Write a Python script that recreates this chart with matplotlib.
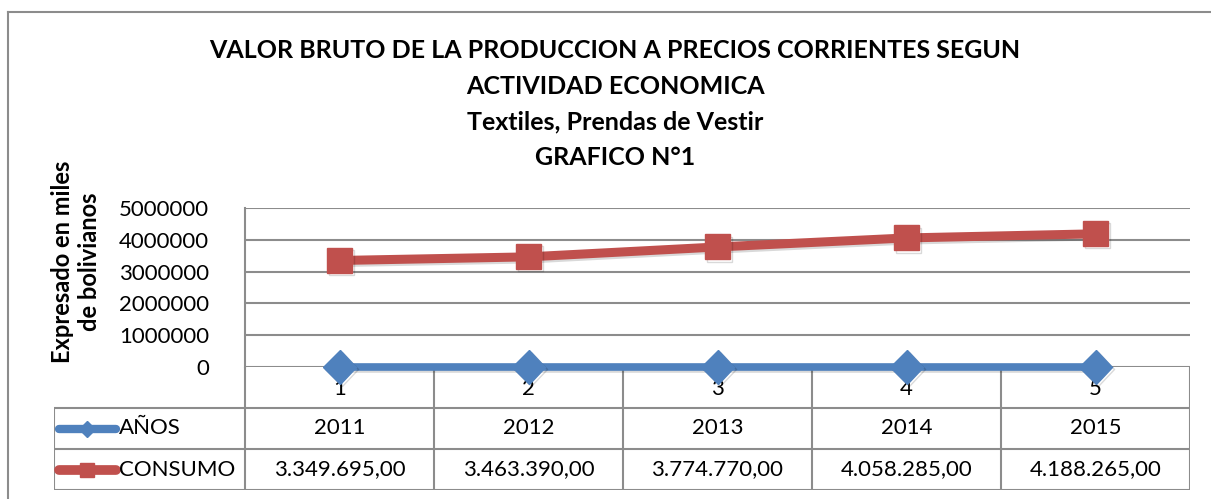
import matplotlib
matplotlib.use("Agg")
import matplotlib.pyplot as plt
import matplotlib.patheffects as pe

plt.rcParams['font.family'] = ['Lato', 'DejaVu Sans']

# datos del grafico
categorias = ["1", "2", "3", "4", "5"]
anios = [2011, 2012, 2013, 2014, 2015]
consumo = [3349695, 3463390, 3774770, 4058285, 4188265]
y_ticks = [0, 1000000, 2000000, 3000000, 4000000, 5000000]
titulo = ("VALOR BRUTO DE LA PRODUCCION A PRECIOS CORRIENTES SEGUN\n"
          "ACTIVIDAD ECONOMICA\nTextiles, Prendas de Vestir\nGRAFICO N°1")
y_label = "Expresado en miles\nde bolivianos"

AZUL = "#4F81BD"
ROJO = "#C0504D"
GRIS = "#8C8C8C"


def fmt_es(v):
    s = f"{v:,.2f}"
    return s.replace(",", "#").replace(".", ",").replace("#", ".")


def main():
    W, H = 1211, 499
    fig = plt.figure(figsize=(W / 100, H / 100), dpi=100)

    # marco exterior
    fig.add_artist(plt.Line2D([8 / W, 1], [1 - 12 / H, 1 - 12 / H], color=GRIS, lw=1.5))
    fig.add_artist(plt.Line2D([8 / W, 8 / W], [0, 1 - 12 / H], color=GRIS, lw=1.5))

    x_left, x_right = 245, 1190
    y_top, y_zero, y_bot = 208, 367, 490
    leg_left = 54

    # tabla de datos
    tab = fig.add_axes([leg_left / W, 1 - y_bot / H, (x_right - leg_left) / W, (y_bot - y_zero) / H])
    unit = (x_right - x_left) / len(categorias)
    xl = 0.5 - (x_left - leg_left) / unit
    tab.set_xlim(xl, len(categorias) + 0.5)
    tab.set_ylim(0, 3)
    tab.axis("off")
    n = len(categorias)
    tab.hlines([0, 1, 2], xl, n + 0.5, color=GRIS, lw=1.5)
    tab.vlines([i + 0.5 for i in range(n + 1)], 0, 3, color=GRIS, lw=1.5)
    tab.vlines([xl], 0, 2, color=GRIS, lw=1.5)
    for i, c in enumerate(categorias):
        tab.text(i + 1, 2.47, c, ha="center", va="center", fontsize=16)
        tab.text(i + 1, 1.5, str(anios[i]), ha="center", va="center", fontsize=16)
        tab.text(i + 1, 0.5, fmt_es(consumo[i]), ha="center", va="center", fontsize=16)

    # claves de leyenda
    kx0 = xl + 5 / unit
    kx1 = xl + 62 / unit
    tab.plot([kx0, kx1], [1.5, 1.5], color=AZUL, lw=6, solid_capstyle="round")
    tab.plot([(kx0 + kx1) / 2], [1.5], marker="D", color=AZUL, ms=8)
    tab.plot([kx0, kx1], [0.5, 0.5], color=ROJO, lw=7, solid_capstyle="round")
    tab.plot([(kx0 + kx1) / 2], [0.5], marker="s", color=ROJO, ms=10)
    tab.text(xl + 65 / unit, 1.5, "AÑOS", ha="left", va="center", fontsize=16)
    tab.text(xl + 65 / unit, 0.5, "CONSUMO", ha="left", va="center", fontsize=16)

    # area de trazado
    ax = fig.add_axes([x_left / W, 1 - y_zero / H, (x_right - x_left) / W, (y_zero - y_top) / H])
    ax.set_zorder(3)
    ax.patch.set_alpha(0)
    ax.set_xlim(0.5, n + 0.5)
    ax.set_ylim(0, 5000000)
    ax.set_yticks(y_ticks)
    ax.set_yticklabels([str(t) for t in y_ticks], fontsize=16)
    ax.set_xticks([])
    ax.tick_params(axis="y", length=0, pad=26)
    for s in ["top", "right", "bottom"]:
        ax.spines[s].set_visible(False)
    ax.spines["left"].set_color(GRIS)
    ax.spines["left"].set_linewidth(1.5)
    ax.grid(axis="y", color=GRIS, lw=1.5)
    ax.set_axisbelow(True)

    xs = list(range(1, n + 1))
    sombra = [pe.SimpleLineShadow(offset=(1.5, -1.5), alpha=0.15), pe.Normal()]
    ax.plot(xs, anios, color=AZUL, lw=5.5, marker="D", ms=17, clip_on=False,
            path_effects=sombra, zorder=4)
    ax.plot(xs, consumo, color=ROJO, lw=6.5, marker="s", ms=18, clip_on=False,
            path_effects=sombra, zorder=5)

    fig.text(76 / W, 1 - 262 / H, y_label, rotation=90, ha="center", va="center",
             fontsize=17, fontweight="bold", linespacing=1.25)
    fig.text(615 / W, 1 - 104 / H, titulo, ha="center", va="center",
             fontsize=18, fontweight="bold", linespacing=1.68)

    fig.savefig("out.png", dpi=100)


if __name__ == "__main__":
    main()
